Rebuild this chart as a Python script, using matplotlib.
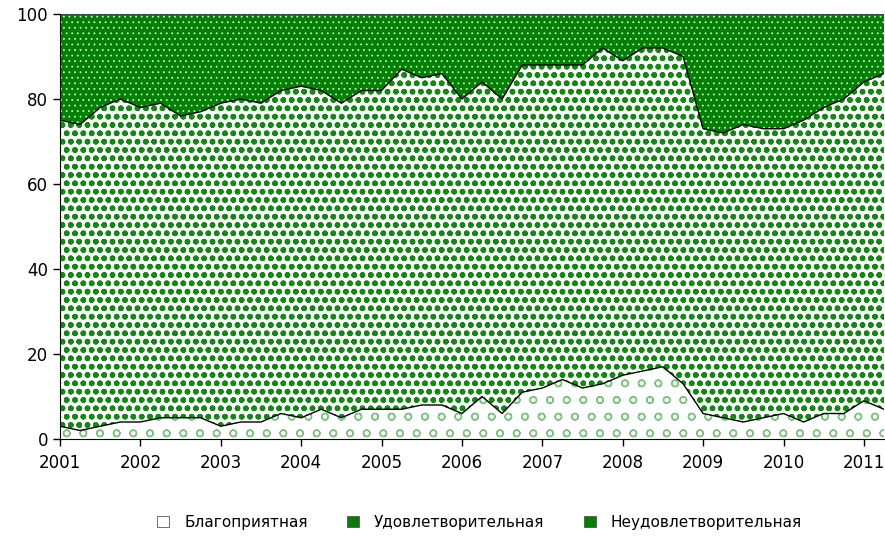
import numpy as np
import matplotlib
matplotlib.use("Agg")
import matplotlib.pyplot as plt
from matplotlib.patches import Patch

# Quarterly data, 2001 Q1 .. 2011 Q2 (shares, %)
start_year = 2001
favourable = [3, 2, 3, 4, 4, 5, 5, 5, 3, 4, 4, 6, 5, 7, 5, 7, 7, 7, 8, 8, 6,
              10, 6, 11, 12, 14, 12, 13, 15, 16, 17, 13, 6, 5, 4, 5, 6, 4, 6, 6, 9, 7]
satisfactory = [72, 72, 75, 76, 74, 74, 71, 72, 76, 76, 75, 76, 78, 75, 74, 75, 75, 80, 77, 78, 74,
                74, 74, 77, 76, 74, 76, 79, 74, 76, 75, 77, 67, 67, 70, 68, 67, 71, 72, 74, 75, 79]
unsatisfactory = [25, 26, 22, 20, 22, 21, 24, 23, 21, 20, 21, 18, 17, 18, 21, 18, 18, 13, 15, 14, 20,
                  16, 20, 12, 12, 12, 12, 8, 11, 8, 8, 10, 27, 28, 26, 27, 27, 25, 22, 20, 16, 14]
labels = ["Благоприятная", "Удовлетворительная", "Неудовлетворительная"]
year_ticks = list(range(2001, 2012))
y_ticks = [0, 20, 40, 60, 80, 100]

x = start_year + np.arange(len(favourable)) / 4.0

plt.rcParams['font.family'] = ['DejaVu Sans']

fig = plt.figure(figsize=(8.85, 5.41), dpi=100)
ax = fig.add_axes([60/885, 1-439/541, (884-60)/885, (439-14)/541])

series = [favourable, satisfactory, unsatisfactory]
faces = ['white', 'white', '#008000']
hatch_cols = ['#7cc47c', '#138813', '#cfe8cf']
hatches = ['o', 'oo', '...']
hatch_lws = [1.0, 1.7, 0.6]

cum = np.cumsum(np.array(series, dtype=float), axis=0)
lower = np.vstack([np.zeros_like(cum[0]), cum[:-1]])
handles = []
for i in range(3):
    with plt.rc_context({'hatch.linewidth': hatch_lws[i]}):
        ax.fill_between(x, lower[i], cum[i], facecolor=faces[i], edgecolor=hatch_cols[i],
                        hatch=hatches[i], linewidth=0)
        handles.append(Patch(facecolor=faces[i], edgecolor='#555555', lw=0.6))

ax.plot(x, cum[0], color='black', lw=1.0)
ax.plot(x, cum[1], color='black', lw=1.0)
ax.plot(x, cum[2], color='#404040', lw=1.2)

ax.set_xlim(x[0], x[-1])
ax.set_ylim(0, 100)
ax.set_xticks(year_ticks)
ax.set_xticklabels([str(y) for y in year_ticks])
ax.set_yticks(y_ticks)
ax.spines['right'].set_visible(False)
ax.spines['top'].set_visible(False)
ax.tick_params(axis='both', labelsize=12, length=5, width=1, direction='out')
ax.tick_params(axis='x', pad=6)

handles[1] = Patch(facecolor='#0a7a0a', edgecolor='#555555', lw=0.6)
handles[2] = Patch(facecolor='#008000', edgecolor='#555555', lw=0.6)
handles[0] = Patch(facecolor='white', edgecolor='#555555', lw=0.6)
leg = fig.legend(handles, labels, loc='center', bbox_to_anchor=(0.542, 0.034), ncol=3,
                 frameon=False, fontsize=11, handlelength=0.75, handleheight=0.75,
                 columnspacing=2.6, handletextpad=1.0)

fig.savefig("out.png", dpi=100)
